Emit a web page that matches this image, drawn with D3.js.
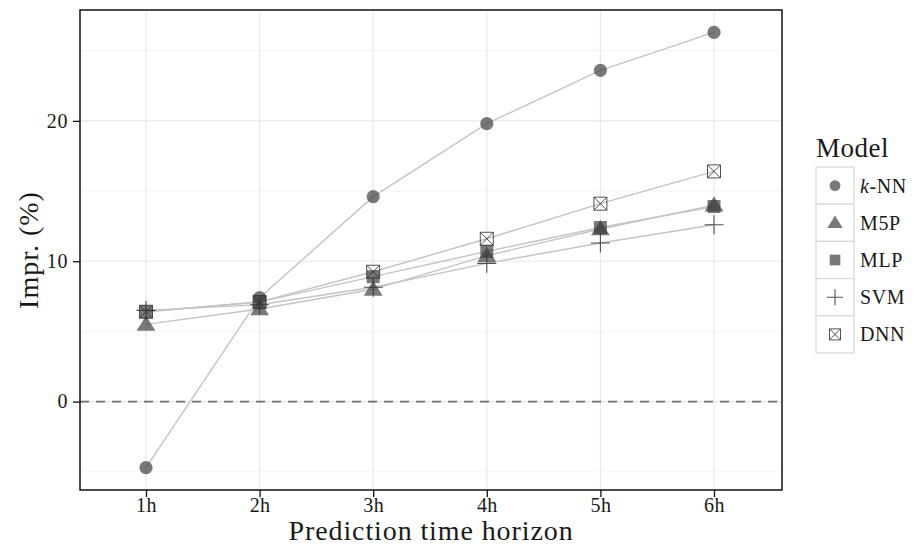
<!DOCTYPE html>
<html><head><meta charset="utf-8">
<script src="https://cdn.jsdelivr.net/npm/d3@7"></script>
<style>body{margin:0;background:#fff}svg{display:block}text{font-family:"Liberation Serif","DejaVu Serif",serif;fill:#1a1a1a}</style>
</head><body><svg id="c" width="919" height="554"></svg>
<script>
const horizons = ["1h","2h","3h","4h","5h","6h"];
const models = ["k-NN","M5P","MLP","SVM","DNN"];
const knn = [-4.7, 7.4, 14.6, 19.8, 23.6, 26.3];
const m5p = [5.5, 6.6, 8.0, 10.4, 12.3, 14.0];
const mlp = [6.4, 7.1, 8.9, 10.7, 12.4, 13.9];
const svm = [6.5, 6.9, 8.15, 9.85, 11.3, 12.6];
const dnn = [6.4, 7.1, 9.25, 11.6, 14.1, 16.4];
const yTicks = [0, 10, 20];
const yMinor = [-5, 5, 15, 25];
const seriesValues = [knn, m5p, mlp, svm, dnn];

const svg = d3.select("#c");
const L = 80, R = 782, T = 10, B = 490;
const x = d3.scalePoint().domain(horizons).range([146, 714]);
const y = d3.scaleLinear().domain([-6.3, 27.9]).range([B, T]);

// grid
const g = svg.append("g");
g.selectAll(".mn").data(yMinor).join("line").attr("x1",L).attr("x2",R)
 .attr("y1",d=>y(d)).attr("y2",d=>y(d)).attr("stroke","#f4f4f4").attr("stroke-width",1);
g.selectAll(".mj").data(yTicks).join("line").attr("x1",L).attr("x2",R)
 .attr("y1",d=>y(d)).attr("y2",d=>y(d)).attr("stroke","#e8e8e8").attr("stroke-width",1.1);
g.selectAll(".vx").data(horizons).join("line").attr("y1",T).attr("y2",B)
 .attr("x1",d=>x(d)).attr("x2",d=>x(d)).attr("stroke","#e8e8e8").attr("stroke-width",1.1);

// zero dashed line
svg.append("line").attr("x1",L).attr("x2",R).attr("y1",y(0)).attr("y2",y(0))
 .attr("stroke","#6e6e6e").attr("stroke-width",1.6).attr("stroke-dasharray","9,7");

// lines
const line = d3.line().x((d,i)=>x(horizons[i])).y(d=>y(d));
seriesValues.forEach(s=>{
  svg.append("path").attr("d",line(s)).attr("fill","none").attr("stroke","#c4c4c4").attr("stroke-width",1.4);
});

const fillC = "#3a3a3a", fillO = 0.68;
function drawShape(sel, type, cx, cy, scale){
  const k = scale||1;
  if(type===0){
    sel.append("circle").attr("cx",cx).attr("cy",cy).attr("r",6.6*k).attr("fill",fillC).attr("fill-opacity",fillO);
  } else if(type===1){
    const s=8.5*k;
    sel.append("path").attr("d",`M${cx},${cy-s*1.05}L${cx+s*1.1},${cy+s*0.75}L${cx-s*1.1},${cy+s*0.75}Z`).attr("fill",fillC).attr("fill-opacity",fillO);
  } else if(type===2){
    const s=6.5*k;
    sel.append("rect").attr("x",cx-s).attr("y",cy-s).attr("width",2*s).attr("height",2*s).attr("fill",fillC).attr("fill-opacity",fillO);
  } else if(type===3){
    const s=9.5*k;
    sel.append("path").attr("d",`M${cx-s},${cy}H${cx+s}M${cx},${cy-s}V${cy+s}`).attr("stroke","#333").attr("stroke-opacity",0.85).attr("stroke-width",1.1).attr("fill","none");
  } else {
    const s=6.5*k;
    sel.append("path").attr("d",`M${cx-s},${cy-s}H${cx+s}V${cy+s}H${cx-s}Z M${cx-s},${cy-s}L${cx+s},${cy+s}M${cx+s},${cy-s}L${cx-s},${cy+s}`)
      .attr("stroke","#333").attr("stroke-opacity",0.85).attr("stroke-width",1).attr("fill","none");
  }
}
const pts = svg.append("g");
seriesValues.forEach((s,si)=>{
  s.forEach((v,i)=>drawShape(pts, si, x(horizons[i]), y(v)));
});

// panel border
svg.append("rect").attr("x",L).attr("y",T).attr("width",R-L).attr("height",B-T)
 .attr("fill","none").attr("stroke","#111").attr("stroke-width",1.5);

// axes
const ya = svg.append("g").attr("transform",`translate(${L},0)`)
 .call(d3.axisLeft(y).tickValues(yTicks).tickSize(7).tickPadding(5));
ya.select(".domain").remove();
ya.selectAll("line").attr("stroke","#111").attr("stroke-width",1.3);
ya.selectAll("text").style("font-size","20px").style("letter-spacing","0.6px").attr("fill","#222");
const xa = svg.append("g").attr("transform",`translate(0,${B})`)
 .call(d3.axisBottom(x).tickSize(7).tickPadding(1));
xa.select(".domain").remove();
xa.selectAll("line").attr("stroke","#111").attr("stroke-width",1.3);
xa.selectAll("text").style("font-size","20px").style("letter-spacing","0.4px").attr("fill","#222");

svg.append("text").attr("x",(L+R)/2).attr("y",540).attr("text-anchor","middle").style("font-size","28px").style("letter-spacing","0.9px").text("Prediction time horizon");
svg.append("text").attr("transform",`translate(38,${(T+B)/2}) rotate(-90)`).attr("text-anchor","middle").style("font-size","28px").style("letter-spacing","1px").text("Impr. (%)");

// legend
const lg = svg.append("g");
lg.append("text").attr("x",816).attr("y",157).style("font-size","27px").style("letter-spacing","0.5px").text("Model");
const ky0 = 167, kh = 37.2, kx = 816, kw = 38;
models.forEach((m,i)=>{
  const yy = ky0 + i*kh;
  lg.append("rect").attr("x",kx).attr("y",yy).attr("width",kw).attr("height",kh).attr("fill","#fff").attr("stroke","#d9d9d9").attr("stroke-width",1.2);
  drawShape(lg, i, kx+kw/2, yy+kh/2, i===3?0.85:(i===4?0.85:0.82));
  const t = lg.append("text").attr("x",860).attr("y",yy+kh/2+7).style("font-size","20px").style("letter-spacing","0.6px");
  if(i===0){ t.append("tspan").style("font-style","italic").text("k"); t.append("tspan").text("-NN"); }
  else t.text(m);
});
</script></body></html>
